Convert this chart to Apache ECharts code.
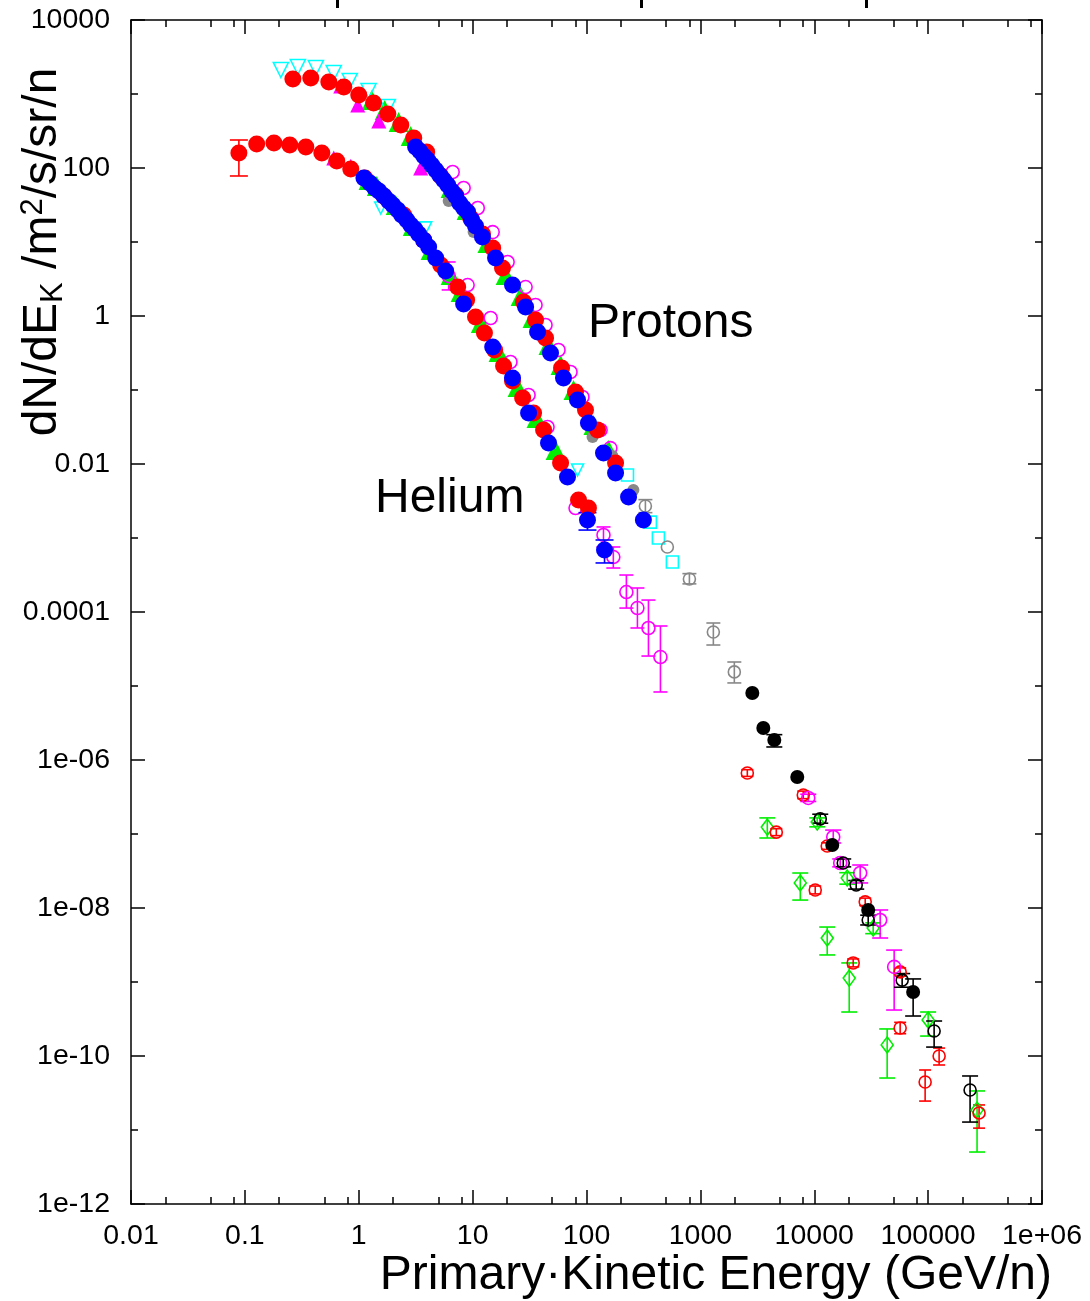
<!DOCTYPE html>
<html><head><meta charset="utf-8">
<script src="https://cdn.jsdelivr.net/npm/echarts@6/dist/echarts.min.js"></script>
<style>html,body{margin:0;padding:0;background:#fff}#c{width:1090px;height:1301px}</style>
</head><body><div id="c"></div>
<script>
// ---------- axis ticks / labels ----------
const xTickValues = [0.01, 0.1, 1, 10, 100, 1000, 10000, 100000, 1000000];
const xTickLabels = ['0.01', '0.1', '1', '10', '100', '1000', '10000', '100000', '1e+06'];
const xMinorMantissa = [2, 5, 8];
const yTickValues = [1e-12, 1e-10, 1e-8, 1e-6, 1e-4, 0.01, 1, 100, 10000];
const yTickLabels = ['1e-12', '1e-10', '1e-08', '1e-06', '0.0001', '0.01', '1', '100', '10000'];
const yMinorValues = [1e-11, 1e-9, 1e-7, 1e-5, 1e-3, 0.1, 10, 1000];

// ---------- Helium ----------
const heRed = [[0.0886,160],[0.127,211],[0.180,218],[0.248,205],[0.343,192],[0.474,160],[0.641,124],[0.851,96.9],[1.13,73.3],[1.66,41.8],[2.48,23.2],[3.72,10.6],[5.24,4.89],[7.39,2.46],[8.86,1.65],[10.6,0.969],[12.7,0.589],[15.6,0.347],[18.7,0.211],[22.4,0.132],[27.5,0.078],[34.3,0.0489],[42.0,0.0288],[59.2,0.0103],[85.1,0.00326],[104,0.00254]];
const heRedErr = [[0.0886,78.0,239]];
const heBlue = [[1.11,73.3],[1.25,62.7],[1.38,53.7],[1.50,48.9],[1.66,41.8],[1.83,35.8],[1.99,31.6],[2.20,27.1],[2.38,23.2],[2.64,19.8],[2.86,17.0],[3.10,15.0],[3.36,12.8],[3.72,10.6],[4.11,8.56],[4.74,6.08],[5.80,4.06],[8.34,1.45],[15.0,0.381],[22.4,0.145],[31.0,0.0489],[46.4,0.0192],[68.1,0.00667],[102,0.00175],[144,0.000688]];
const heBlueErr = [[102,0.00128,0.0022],[144,0.00046,0.00094]];
const heGreen = [[1.22,68.8],[1.44,57.1],[2.11,31.6],[2.98,16.5],[4.28,7.80],[6.41,3.58],[7.85,2.11],[11.8,0.804],[16.9,0.326],[24.8,0.110],[36.4,0.0418],[53.5,0.0155]];
const heMagTri = [[0.603,136],[0.851,106]];
const heMagOpen = [[6.16,3.47],[9.04,2.62],[14.4,0.940],[21.5,0.239],[31.0,0.0856],[45.5,0.0316],[80.1,0.00254],[141,0.00110],[172,0.000553],[224,0.000186],[280,0.000113],[350,6.08e-5],[446,2.46e-5]];
const heMagErr = [[6.16,2.25,5.37],[141,0.000756,0.00141],[172,0.000393,0.000756],[224,0.000113,0.000316],[280,6.08e-5,0.000211],[350,2.54e-5,0.000145],[446,8.30e-6,6.47e-5]];
const heCyan = [[1.56,28.8],[3.87,15.5],[83.4,0.0083]];

// ---------- Protons ----------
const pRed = [[0.264,1594],[0.379,1645],[0.546,1452],[0.739,1244],[1.00,969],[1.35,756],[1.80,537],[2.34,381],[3.04,254],[3.95,165],[5.24,78.0],[7.10,43.2],[9.61,21.1],[12.2,12.8],[15.0,8.30],[18.3,4.45],[28.0,1.55],[35.7,0.883],[43.7,0.504],[60.4,0.198],[80.1,0.094],[98.0,0.0537],[125,0.0288],[180,0.0103]];
const pBlue = [[3.16,192],[3.43,170],[3.72,145],[4.03,128],[4.37,110],[4.74,94.0],[5.13,80.4],[5.57,68.8],[6.04,58.9],[6.55,48.9],[7.10,41.8],[7.69,33.6],[8.34,28.8],[9.04,25.4],[9.80,19.8],[10.6,16.5],[12.2,11.7],[15.9,6.08],[22.4,2.62],[29.2,1.32],[37.2,0.608],[48.3,0.316],[62.8,0.145],[83.4,0.0733],[104,0.0358],[141,0.0141],[180,0.00756],[234,0.00358],[316,0.00175]];
const pGreen = [[1.30,830],[1.69,608],[2.24,418],[2.86,271],[4.28,120],[6.41,53.7],[8.86,27.1],[13.5,9.69],[19.5,3.58],[26.4,1.86],[33.6,0.940],[46.4,0.406],[59.2,0.218],[76.9,0.100],[115,0.0337],[156,0.0155]];
const pMagTri = [[0.695,1283],[0.980,710],[1.50,432],[3.50,100]];
const pCyanTri = [[0.207,2110],[0.292,2317],[0.420,2245],[0.603,1922],[0.834,1499],[1.22,1098],[1.80,667]];
const pMagOpen = [[6.68,88.3],[8.34,53.7],[11.1,28.8],[15.0,13.6],[20.3,5.37],[29.2,2.46],[35.7,1.41],[43.7,0.756],[56.8,0.347],[72.4,0.175],[92.2,0.0804],[133,0.0288],[162,0.0164]];
const pGrayFill = [[6.16,35.8],[10.2,13.6],[113,0.0232],[169,0.0128],[258,0.00446]];
const pGrayOpen = [[329,0.00271],[513,0.000756],[801,0.000279],[1300,5.37e-5],[1987,1.55e-5]];
const pGrayErr = [[329,0.0022,0.0033],[801,0.00024,0.00033],[1300,3.58e-5,7.10e-5],[1987,1.10e-5,2.11e-5]];
const pCyanSq = [[229,0.0071],[364,0.00164],[428,0.001],[568,0.000474]];

// ---------- High energy ----------
const hiBlackFill = [[2858,8.04e-6],[3570,2.71e-6],[4459,1.86e-6],[7095,5.89e-7],[14390,7.10e-8],[29770,9.40e-9],[73860,7.33e-10]];
const hiBlackFillErr = [[4459,1.5e-6,2.2e-6],[73860,3.47e-10,1.10e-9]];
const hiBlackOpen = [[11290,1.60e-7],[17970,4.06e-8],[23360,2.05e-8],[29770,6.88e-9],[59150,1.06e-9],[112900,2.18e-10],[233600,3.47e-11]];
const hiBlackOpenErr = [[11290,1.4e-7,1.85e-7],[17970,3.6e-8,4.6e-8],[23360,1.8e-8,2.35e-8],[29770,5.9e-9,8.0e-9],[59150,8.5e-10,1.3e-9],[112900,1.32e-10,2.97e-10],[233600,1.28e-11,5.37e-11]];
const hiRedOpen = [[2584,6.67e-7],[4642,1.06e-7],[8008,3.37e-7],[13000,6.88e-8],[10200,1.75e-8],[21980,1.81e-9],[28020,1.21e-8],[56810,1.37e-9],[56810,2.39e-10],[124900,1.0e-10],[94130,4.45e-11],[280200,1.70e-11]];
const hiRedErr = [[2584,6.0e-7,7.4e-7],[4642,9.5e-8,1.18e-7],[8008,3.0e-7,3.8e-7],[13000,6.2e-8,7.6e-8],[10200,1.55e-8,1.98e-8],[21980,1.6e-9,2.05e-9],[28020,1.08e-8,1.36e-8],[56810,1.2e-9,1.55e-9],[56810,2.0e-10,2.85e-10],[124900,7.56e-11,1.28e-10],[94130,2.46e-11,6.47e-11],[280200,1.06e-11,2.18e-11]];
const hiMagOpen = [[8861,3.07e-7],[14680,9.10e-8],[16910,4.06e-8],[25320,2.97e-8],[37930,6.88e-9],[50330,1.60e-9]];
const hiMagErr = [[8861,2.75e-7,3.45e-7],[14680,7.56e-8,1.13e-7],[16910,3.6e-8,4.6e-8],[25320,2.18e-8,3.81e-8],[37930,3.93e-9,9.40e-9],[50330,4.18e-10,2.70e-9]];
const hiGreenDia = [[3870,1.24e-7],[7539,2.18e-8],[10620,1.45e-7],[19480,2.54e-8],[32930,5.37e-9],[13000,3.93e-9],[20280,1.13e-9],[43690,1.41e-10],[100000,3.07e-10],[269000,1.86e-11]];
const hiGreenErr = [[3870,8.83e-8,1.65e-7],[7539,1.28e-8,2.97e-8],[10620,1.25e-7,1.65e-7],[19480,2.1e-8,3.0e-8],[32930,4.5e-9,6.3e-9],[13000,2.32e-9,5.53e-9],[20280,3.93e-10,1.81e-9],[43690,5.04e-11,2.32e-10],[100000,1.86e-10,3.93e-10],[269000,5.04e-12,3.37e-11]];

// ---------- build ----------
const FONT = "'Liberation Sans', Arial, Helvetica, sans-serif";
const xMinorValues = [];
for (let k = -2; k < 6; k++) xMinorMantissa.forEach(m => xMinorValues.push(+(m * Math.pow(10, k)).toPrecision(6)));

function fmt(vals, labels) {
  return function (v) {
    for (let i = 0; i < vals.length; i++) if (Math.abs(Math.log10(v) - Math.log10(vals[i])) < 1e-6) return labels[i];
    return '';
  };
}
const LINE = { color: '#000', width: 1.5 };
function xAx(pos, major) {
  return {
    type: 'log', logBase: 10, min: 0.01, max: 1e6, position: pos,
    axisLine: { show: major, onZero: false, lineStyle: LINE },
    axisTick: { show: true, inside: true, length: major ? 14 : 7, customValues: major ? xTickValues : xMinorValues, lineStyle: LINE },
    axisLabel: (major && pos === 'bottom') ? { show: true, customValues: xTickValues, formatter: fmt(xTickValues, xTickLabels), fontSize: 28.5, color: '#000', fontFamily: FONT, margin: 18, showMinLabel: true, showMaxLabel: true, hideOverlap: false } : { show: false },
    splitLine: { show: false }, minorTick: { show: false }, minorSplitLine: { show: false }
  };
}
function yAx(pos, major) {
  return {
    type: 'log', logBase: 10, min: 1e-12, max: 1e4, position: pos,
    axisLine: { show: major, onZero: false, lineStyle: LINE },
    axisTick: { show: true, inside: true, length: major ? 14 : 7, customValues: major ? yTickValues : yMinorValues, lineStyle: LINE },
    axisLabel: (major && pos === 'left') ? { show: true, customValues: yTickValues, formatter: fmt(yTickValues, yTickLabels), fontSize: 28.5, color: '#000', fontFamily: FONT, margin: 21, showMinLabel: true, showMaxLabel: true, hideOverlap: false } : { show: false },
    splitLine: { show: false }, minorTick: { show: false }, minorSplitLine: { show: false }
  };
}

function scatter(data, color, symbol, size, open, z, rotate) {
  return {
    type: 'scatter', data: data, symbol: symbol, symbolSize: size, symbolRotate: rotate || 0,
    xAxisIndex: 0, yAxisIndex: 0, silent: true, z: z || 2,
    itemStyle: open ? { color: 'rgba(255,255,255,0)', borderColor: color, borderWidth: 1.6, opacity: 1 } : { color: color, opacity: 1 },
    emphasis: { disabled: true }
  };
}
function errBars(data, color, cap, z) {
  return {
    type: 'custom', data: data, xAxisIndex: 0, yAxisIndex: 0, silent: true, z: z || 2,
    encode: { x: 0, y: [1, 2] },
    renderItem: function (params, api) {
      const x = api.value(0);
      const p1 = api.coord([x, api.value(1)]);
      const p2 = api.coord([x, api.value(2)]);
      const st = { stroke: color, lineWidth: 1.6 };
      return {
        type: 'group', children: [
          { type: 'line', shape: { x1: p1[0], y1: p1[1], x2: p2[0], y2: p2[1] }, style: st },
          { type: 'line', shape: { x1: p1[0] - cap, y1: p1[1], x2: p1[0] + cap, y2: p1[1] }, style: st },
          { type: 'line', shape: { x1: p2[0] - cap, y1: p2[1], x2: p2[0] + cap, y2: p2[1] }, style: st }
        ]
      };
    }
  };
}

const RED = '#ff0000', BLUE = '#0000ff', GREEN = '#00ee00', MAG = '#ff00ff', CYAN = '#00ffff', GRAY = '#888888', BLACK = '#000000';

const series = [
  // Helium
  scatter(heGreen, GREEN, 'triangle', 20, false, 2),
  scatter(heMagTri, MAG, 'triangle', 15, false, 2),
  scatter(heCyan, CYAN, 'triangle', 12, true, 2, 180),
  errBars(heMagErr, MAG, 7, 2),
  scatter(heMagOpen, MAG, 'circle', 13, true, 2),
  errBars(heRedErr, RED, 9, 3),
  scatter(heRed, RED, 'circle', 17, false, 3),
  errBars(heBlueErr, BLUE, 9, 3),
  scatter(heBlue, BLUE, 'circle', 17, false, 4),
  // Protons
  scatter(pGreen, GREEN, 'triangle', 20, false, 2),
  scatter(pCyanTri, CYAN, 'triangle', 15, true, 2, 180),
  scatter(pMagTri, MAG, 'triangle', 15, false, 2),
  scatter(pMagOpen, MAG, 'circle', 13, true, 2),
  scatter(pGrayFill, GRAY, 'circle', 12, false, 2),
  scatter(pCyanSq, CYAN, 'rect', 12, true, 2),
  errBars(pGrayErr, GRAY, 7, 2),
  scatter(pGrayOpen, GRAY, 'circle', 12, true, 2),
  scatter(pRed, RED, 'circle', 17, false, 3),
  scatter(pBlue, BLUE, 'circle', 17, false, 4),
  // High energy
  errBars(hiGreenErr, GREEN, 8, 2),
  scatter(hiGreenDia, GREEN, 'diamond', [12, 16], true, 2),
  errBars(hiRedErr, RED, 6, 2),
  scatter(hiRedOpen, RED, 'circle', 12, true, 2),
  errBars(hiMagErr, MAG, 8, 2),
  scatter(hiMagOpen, MAG, 'circle', 13, true, 2),
  errBars(hiBlackOpenErr, BLACK, 8, 2),
  scatter(hiBlackOpen, BLACK, 'circle', 12, true, 2),
  errBars(hiBlackFillErr, BLACK, 8, 3),
  scatter(hiBlackFill, BLACK, 'circle', 14, false, 3)
];

const chart = echarts.init(document.getElementById('c'), null, { renderer: 'canvas' });
chart.setOption({
  animation: false,
  backgroundColor: '#ffffff',
  grid: { left: 131, right: 48, top: 20, bottom: 97, containLabel: false, outerBoundsMode: 'none' },
  xAxis: [xAx('bottom', true), xAx('top', true), xAx('bottom', false), xAx('top', false)],
  yAxis: [yAx('left', true), yAx('right', true), yAx('left', false), yAx('right', false)],
  series: series,
  graphic: [
    { type: 'rect', shape: { x: 336, y: 0, width: 3, height: 8 }, style: { fill: '#000' }, silent: true },
    { type: 'rect', shape: { x: 640, y: 0, width: 3, height: 8 }, style: { fill: '#000' }, silent: true },
    { type: 'rect', shape: { x: 865, y: 0, width: 3, height: 8 }, style: { fill: '#000' }, silent: true },
    { type: 'text', x: 588, y: 324, silent: true, style: { text: 'Protons', fontSize: 48, fontFamily: FONT, fill: '#000', align: 'left', verticalAlign: 'middle' } },
    { type: 'text', x: 375, y: 499, silent: true, style: { text: 'Helium', fontSize: 48, fontFamily: FONT, fill: '#000', align: 'left', verticalAlign: 'middle' } },
    { type: 'text', x: 1052, y: 1276, silent: true, style: { text: 'Primary·Kinetic Energy (GeV/n)', fontSize: 48, fontFamily: FONT, fill: '#000', align: 'right', verticalAlign: 'middle' } },
    { type: 'text', x: 43, y: 252, rotation: Math.PI / 2, silent: true,
      style: {
        text: '{a|dN/dE}{sub|K}{a| /m}{sup|2}{a|/s/sr/n}', align: 'center', verticalAlign: 'middle', fill: '#000', fontFamily: FONT,
        rich: {
          a: { fontSize: 48, lineHeight: 58, fontFamily: FONT, fill: '#000', verticalAlign: 'middle' },
          sub: { fontSize: 31, lineHeight: 58, fontFamily: FONT, fill: '#000', verticalAlign: 'middle', padding: [20, 0, 0, 0] },
          sup: { fontSize: 31, lineHeight: 58, fontFamily: FONT, fill: '#000', verticalAlign: 'middle', padding: [0, 0, 20, 0] }
        }
      } }
  ]
});
</script>
</body></html>
